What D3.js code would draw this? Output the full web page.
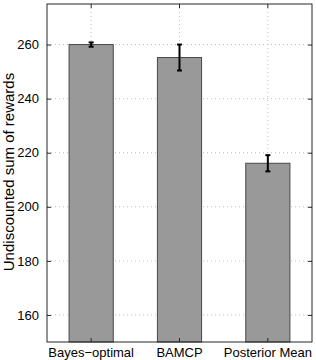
<!DOCTYPE html>
<html>
<head>
<meta charset="utf-8">
<script src="https://d3js.org/d3.v7.min.js"></script>
<style>
    body { margin: 0; background: #fff; }
    text { font-family: "Liberation Sans", Arial, sans-serif; fill: #000; }
</style>
</head>
<body>
<div id="container"></div>
<script>

// data
var methods = ["Bayes\u2212optimal", "BAMCP", "Posterior Mean"];
var rewards = [260.0, 255.2, 216.1];
var errors = [0.8, 4.8, 3.0];
var yTicks = [160, 180, 200, 220, 240, 260];

var margin = {top: 4, right: 4, bottom: 18, left: 47},
    width = 316 - margin.left - margin.right,
    height = 360 - margin.top - margin.bottom;

var svg = d3.select("#container").append("svg")
    .attr("width", width + margin.left + margin.right)
    .attr("height", height + margin.top + margin.bottom)
    .append("g")
    .attr("transform", "translate(" + margin.left + "," + margin.top + ")");

// set the ranges
var x = d3.scaleBand()
    .domain(methods)
    .range([0, width]);
var y = d3.scaleLinear()
    .domain([150, 275])
    .range([height, 0]);

var barW = x.bandwidth() * 0.5;

// dotted grid
svg.selectAll(".hgrid")
    .data(yTicks)
    .enter().append("line")
    .attr("x1", 0).attr("x2", width)
    .attr("y1", function(d) { return y(d); })
    .attr("y2", function(d) { return y(d); })
    .attr("stroke", "#bdbdbd")
    .attr("stroke-dasharray", "1,3");
svg.selectAll(".vgrid")
    .data(methods)
    .enter().append("line")
    .attr("x1", function(d) { return x(d) + x.bandwidth() / 2; })
    .attr("x2", function(d) { return x(d) + x.bandwidth() / 2; })
    .attr("y1", 0).attr("y2", height)
    .attr("stroke", "#bdbdbd")
    .attr("stroke-dasharray", "1,3");

// bars
svg.selectAll(".bar")
    .data(rewards)
    .enter().append("rect")
    .attr("class", "bar")
    .attr("x", function(d, i) { return x(methods[i]) + (x.bandwidth() - barW) / 2; })
    .attr("width", barW)
    .attr("y", function(d) { return y(d); })
    .attr("height", function(d) { return height - y(d); })
    .attr("fill", "#999999")
    .attr("stroke", "#474747")
    .attr("stroke-width", 1);

// error bars
var eb = svg.selectAll(".err")
    .data(rewards)
    .enter().append("g")
    .attr("transform", function(d, i) { return "translate(" + (x(methods[i]) + x.bandwidth() / 2) + ",0)"; });
eb.append("line")
    .attr("y1", function(d, i) { return y(d - errors[i]); })
    .attr("y2", function(d, i) { return y(d + errors[i]); })
    .attr("stroke", "#000").attr("stroke-width", 2);
eb.append("line")
    .attr("x1", -2.5).attr("x2", 2.5)
    .attr("y1", function(d, i) { return y(d - errors[i]); })
    .attr("y2", function(d, i) { return y(d - errors[i]); })
    .attr("stroke", "#000").attr("stroke-width", 2);
eb.append("line")
    .attr("x1", -2.5).attr("x2", 2.5)
    .attr("y1", function(d, i) { return y(d + errors[i]); })
    .attr("y2", function(d, i) { return y(d + errors[i]); })
    .attr("stroke", "#000").attr("stroke-width", 2);

// axes, ticks pointing inwards
var yAxis = svg.append("g")
    .call(d3.axisLeft(y).tickValues(yTicks).tickSize(-4).tickPadding(8));
var yAxisR = svg.append("g")
    .attr("transform", "translate(" + width + ",0)")
    .call(d3.axisRight(y).tickValues(yTicks).tickSize(-4).tickFormat(""));
var xAxis = svg.append("g")
    .attr("transform", "translate(0," + height + ")")
    .call(d3.axisBottom(x).tickSize(-4).tickPadding(6));
var xAxisT = svg.append("g")
    .call(d3.axisTop(x).tickSize(-4).tickFormat(""));

[yAxis, yAxisR, xAxis, xAxisT].forEach(function(a) {
    a.select(".domain").remove();
    a.selectAll(".tick line").attr("stroke", "#262626");
    a.selectAll("text")
        .style("font-family", "'Liberation Sans', Arial, sans-serif")
        .style("font-size", "13px")
        .attr("fill", "#000");
});
// plot box
svg.append("rect")
    .attr("width", width).attr("height", height)
    .attr("fill", "none")
    .attr("stroke", "#262626");

// y label
svg.append("text")
    .attr("transform", "translate(" + (14 - margin.left) + "," + (172 - margin.top) + ") rotate(-90)")
    .attr("text-anchor", "middle")
    .style("font-size", "15px")
    .text("Undiscounted sum of rewards");

</script>
</body>
</html>
